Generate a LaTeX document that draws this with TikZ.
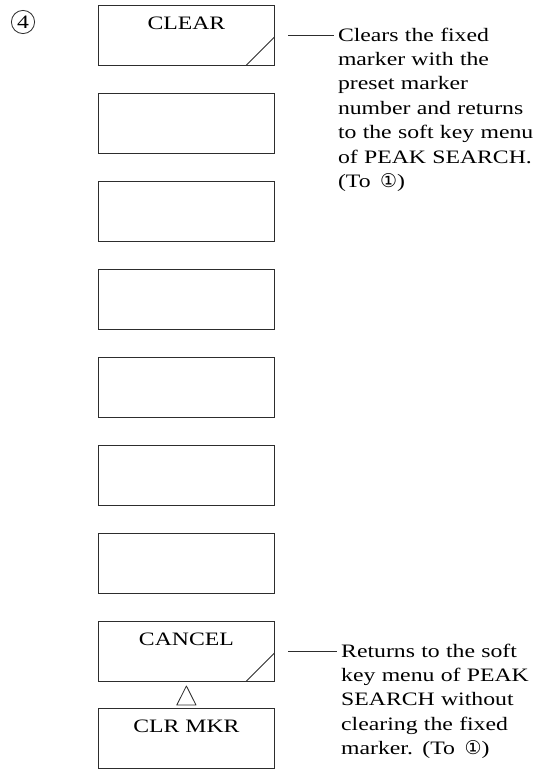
\documentclass[tikz,border=0pt]{standalone}
\usepackage{fontspec}
\setmainfont{Liberation Serif}[FakeStretch=1.25]
\newfontfamily\symfont{DejaVu Sans}
\usetikzlibrary{calc}
\definecolor{keyline}{RGB}{45,45,45}
\newcommand{\kW}{4.40}
\newcommand{\kH}{1.50}
\newcommand{\kX}{4.66}
\newcommand{\kGap}{2.20}
\newcommand{\cutS}{0.70}
\tikzset{
  keybox/.style  ={draw=keyline,line width=0.6pt,minimum width=\kW cm,minimum height=\kH cm,inner sep=0pt,outer sep=0pt},
  keylab/.style  ={inner sep=0pt,anchor=base},
  keycut/.style  ={draw=keyline,line width=0.6pt,line join=round},
  leadline/.style={draw=keyline,line width=0.4pt},
  note/.style    ={inner sep=0pt,outer sep=0pt,anchor=base west,align=left,text width=5.2cm},
  stepno/.style  ={circle,draw=keyline,line width=0.6pt,inner sep=0pt,minimum size=0.58cm},
}
\newcommand{\cn}[1]{{\symfont #1}}
\newcommand{\softkey}[3]{%
  \node[keybox] (#1) at (\kX,#2) {};
  \node[keylab] (#1lab) at ($(#1.north)+(0,-0.6)$) {#3};
}
\newcommand{\cutkey}[1]{%
  \draw[keycut] ($(#1.south east)+(-\cutS,0)$) -- ($(#1.south east)+(0,\cutS)$);}

\begin{document}
\begin{tikzpicture}[font=\fontsize{13.5}{17.4}\selectfont]
  \useasboundingbox (0,0) rectangle (13.5,-19.275);
  \node[stepno] (stp) at (0.575,-0.55) {4};
  \softkey{kA}{-0.875}{CLEAR}
  \foreach \k in {1,...,6}{ \softkey{kE\k}{-0.875-\k*\kGap}{} }
  \softkey{kH}{-16.275}{CANCEL}
  \softkey{kI}{-18.45}{CLR MKR}
  \cutkey{kA} \cutkey{kH}
  \draw[keycut] ($(kH.south)+(0,-0.125)$) -- ($(kH.south)+(0.24,-0.6)$) -- ($(kH.south)+(-0.24,-0.6)$) -- cycle;
  \node[note] (nA) at ($(kA.east)+(1.59,-0.15)$) {Clears the fixed\\ marker with the\\ preset marker\\ number and returns\\ to the soft key menu\\ of PEAK SEARCH.\\ (To~\,\cn{①})};
  \node[note] (nH) at ($(kH.east)+(1.67,-0.15)$) {Returns to the soft\\ key menu of PEAK\\ SEARCH without\\ clearing the fixed\\ marker. (To~\,\cn{①})};
  \draw[leadline] ($(kA.east)+(0.35,0)$) -- ($(kA.east -| nA.west)+(-0.1,0)$);
  \draw[leadline] ($(kH.east)+(0.35,0)$) -- ($(kH.east -| nH.west)+(-0.1,0)$);
\end{tikzpicture}
\end{document}
